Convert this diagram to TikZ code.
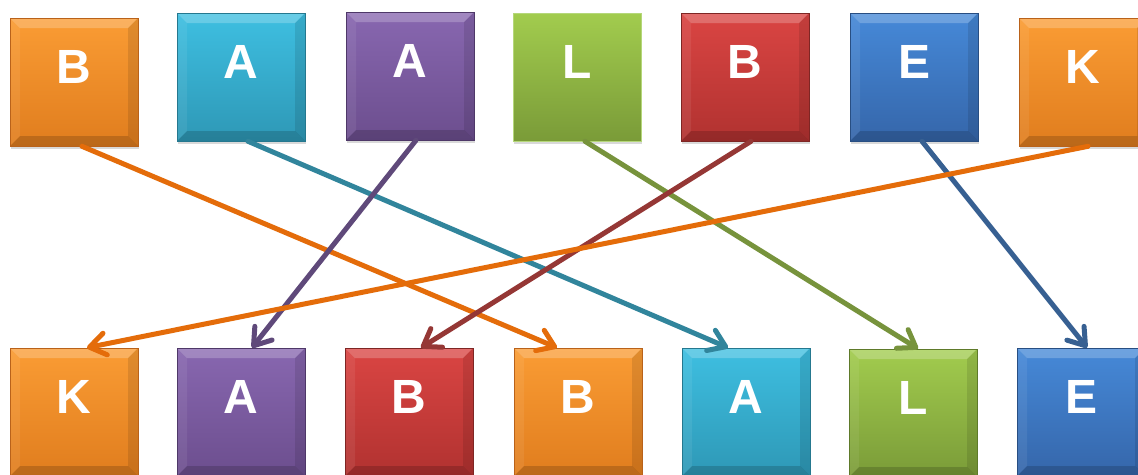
\documentclass[tikz,border=0pt]{standalone}
\usepackage{fontspec}
\setmainfont{Liberation Sans}
\usetikzlibrary{arrows.meta,shadows,calc}
\definecolor{orT}{HTML}{FA9C34}\definecolor{orB}{HTML}{E07D1E}\definecolor{orD}{HTML}{B9621A}\definecolor{orA}{HTML}{E46C0A}
\definecolor{cyT}{HTML}{3EBFE1}\definecolor{cyB}{HTML}{2E98B6}\definecolor{cyD}{HTML}{25788F}\definecolor{cyA}{HTML}{31859C}
\definecolor{puT}{HTML}{8867B0}\definecolor{puB}{HTML}{6C4E8E}\definecolor{puD}{HTML}{4E3868}\definecolor{puA}{HTML}{5F497A}
\definecolor{grT}{HTML}{A2CC4E}\definecolor{grB}{HTML}{7A9B38}\definecolor{grD}{HTML}{5E7A2A}\definecolor{grA}{HTML}{77933C}\definecolor{grL}{HTML}{B5D77A}
\definecolor{reT}{HTML}{DA4543}\definecolor{reB}{HTML}{B13230}\definecolor{reD}{HTML}{7E2624}\definecolor{reA}{HTML}{953735}
\definecolor{blT}{HTML}{4689D8}\definecolor{blB}{HTML}{3566AA}\definecolor{blD}{HTML}{284E82}\definecolor{blA}{HTML}{376092}
\newcommand\bevelpic{%
  \coordinate (bnw) at (path picture bounding box.north west);
  \coordinate (bne) at (path picture bounding box.north east);
  \coordinate (bsw) at (path picture bounding box.south west);
  \coordinate (bse) at (path picture bounding box.south east);
  \fill[white,opacity=.22] (bnw) -- (bne) -- ($(bne)+(-10pt,-10pt)$) -- ($(bnw)+(10pt,-10pt)$) -- cycle;
  \fill[white,opacity=.07] (bnw) -- (bsw) -- ($(bsw)+(10pt,10pt)$) -- ($(bnw)+(10pt,-10pt)$) -- cycle;
  \fill[black,opacity=.10] (bne) -- (bse) -- ($(bse)+(-10pt,10pt)$) -- ($(bne)+(-10pt,-10pt)$) -- cycle;
  \fill[black,opacity=.16] (bsw) -- (bse) -- ($(bse)+(-10pt,10pt)$) -- ($(bsw)+(10pt,10pt)$) -- cycle;
}
\tikzset{
  tilebase/.style={minimum size=128pt, inner sep=0pt, text=white,
    font=\bfseries\fontsize{48}{48}\selectfont, text height=35pt, text depth=32pt,
    line width=0.6pt,
    drop shadow={shadow xshift=1pt, shadow yshift=-3pt, opacity=0.15, fill=black}},
  tile/.style={tilebase, top color=#1T, bottom color=#1B, draw=#1D, path picture={\bevelpic}},
  flattile/.style={tilebase, top color=#1T, bottom color=#1B, draw=#1L},
  conn/.style={draw=#1, line width=5pt, line cap=round,
    -{Straight Barb[length=16pt,width=22pt,round]}},
}
\begin{document}
\begin{tikzpicture}[x=1pt,y=-1pt]
\useasboundingbox[fill=white] (0,0) rectangle (1138,474);
% top row
\node[tile=or]     (t1) at (74,82)   {B};
\node[tile=cy]     (t2) at (241,77)  {A};
\node[tile=pu]     (t3) at (410,76)  {A};
\node[flattile=gr] (t4) at (577,77)  {L};
\node[tile=re]     (t5) at (745,77)  {B};
\node[tile=bl]     (t6) at (914,77)  {E};
\node[tile=or]     (t7) at (1083,82) {K};
% bottom row
\node[tile=or] (b1) at (74,412)   {K};
\node[tile=pu] (b2) at (241,412)  {A};
\node[tile=re] (b3) at (409,412)  {B};
\node[tile=or] (b4) at (578,412)  {B};
\node[tile=cy] (b5) at (746,412)  {A};
\node[tile=gr] (b6) at (913,413)  {L};
\node[tile=bl] (b7) at (1081,412) {E};
% connectors
\draw[conn=orA] ([xshift=8pt]t1.south) -- ([xshift=-21pt]b4.north);
\draw[conn=cyA] ([xshift=7pt]t2.south) -- ([xshift=-18pt]b5.north);
\draw[conn=puA] ([xshift=6pt]t3.south) -- ([xshift=11pt]b2.north);
\draw[conn=grA] ([xshift=8pt]t4.south) -- ([xshift=5pt]b6.north);
\draw[conn=reA] ([xshift=6pt]t5.south) -- ([xshift=12pt]b3.north);
\draw[conn=blA] ([xshift=8pt]t6.south) -- ([xshift=6pt]b7.north);
\draw[conn=orA] ([xshift=5pt]t7.south) -- ([xshift=13pt]b1.north);
\end{tikzpicture}
\end{document}
